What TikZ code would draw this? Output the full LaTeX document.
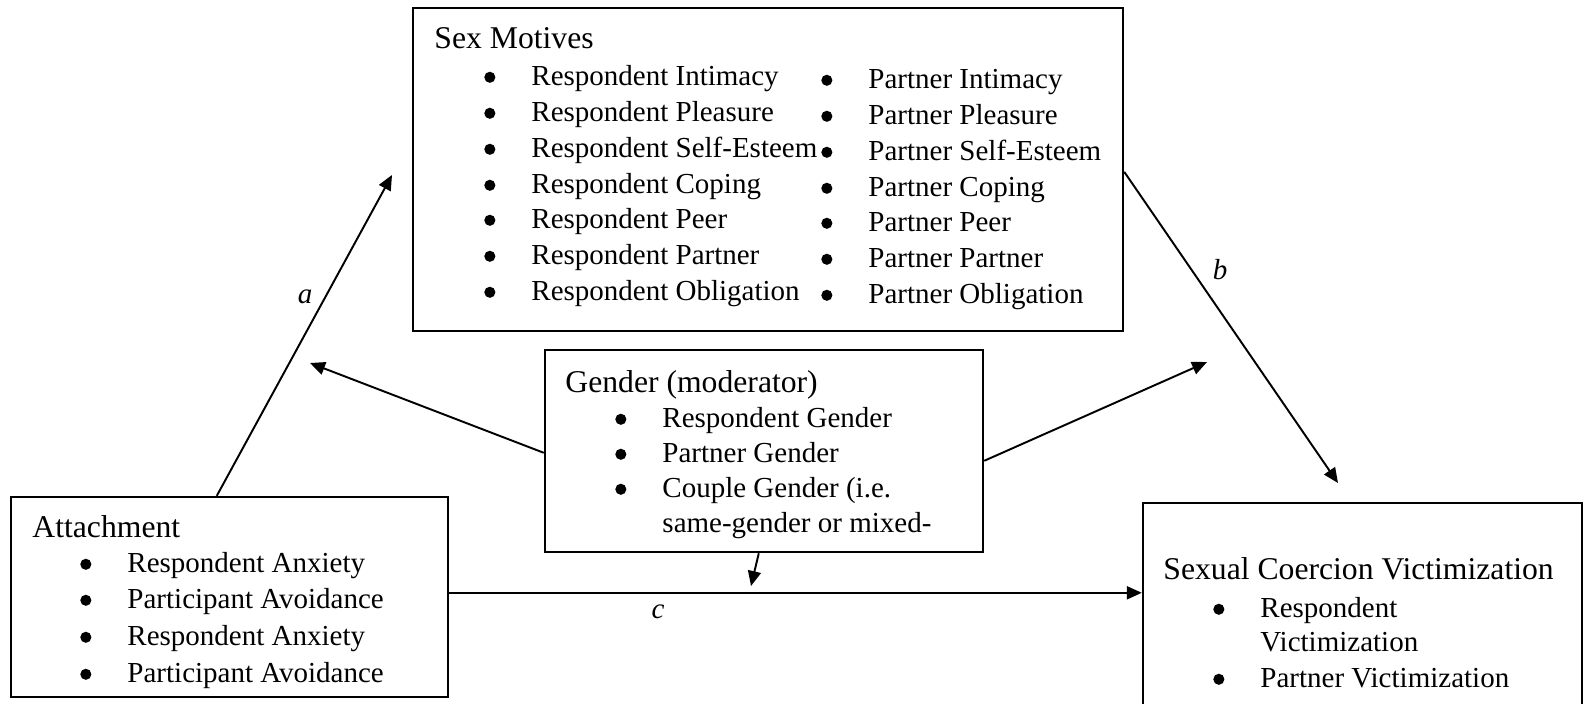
\documentclass[tikz,border=0pt]{standalone}
\usepackage{fontspec}
\setmainfont{Liberation Serif}
\usetikzlibrary{arrows.meta,fit,calc}
\newcommand\itemfont{\fontsize{12}{14}\selectfont}
\newcommand\titlefont{\fontsize{13.1}{15}\selectfont}
\newcommand\bul{\makebox[19.03pt][l]{\hspace{-0.5pt}\tikz[baseline=0pt]\fill (2.3pt,3.2pt) circle[radius=2.3pt];}}
\begin{document}
\begin{tikzpicture}[x=0.41379pt,y=-0.41379pt,
  box/.style={draw,line width=1pt,inner sep=0pt},
  itm/.style={anchor=base west,inner sep=0pt,font=\itemfont},
  ttl/.style={anchor=base west,inner sep=0pt,font=\titlefont},
  lbl/.style={inner sep=0pt,font=\itemfont\itshape},
  arr/.style={line width=0.8pt,-{Triangle[length=6.2pt,width=5.4pt]}},
  ln/.style={line width=0.8pt}]
\useasboundingbox (0,0) rectangle (1583,703);
\clip (0,0) rectangle (1583,703);
% boxes
\node[box,fit={(413,8) (1123,331)}] (sm) {};
\node[box,fit={(545,350) (983,552)}] (gen) {};
\node[box,fit={(11,497) (448,697)}] (att) {};
\node[box,fit={(1143,503) (1582,730)}] (vic) {};
% Sex motives text
\node[ttl] (smt) at (434,48) {Sex Motives};
\node[itm] (r1) at (485,85) {\bul Respondent Intimacy};
\node[itm] (r2) at (485,121) {\bul Respondent Pleasure};
\node[itm] (r3) at (485,157) {\bul Respondent Self-Esteem};
\node[itm] (r4) at (485,193) {\bul Respondent Coping};
\node[itm] (r5) at (485,228) {\bul Respondent Peer};
\node[itm] (r6) at (485,264) {\bul Respondent Partner};
\node[itm] (r7) at (485,300) {\bul Respondent Obligation};
\node[itm] (p1) at (822,88) {\bul Partner Intimacy};
\node[itm] (p2) at (822,124) {\bul Partner Pleasure};
\node[itm] (p3) at (822,160) {\bul Partner Self-Esteem};
\node[itm] (p4) at (822,196) {\bul Partner Coping};
\node[itm] (p5) at (822,231) {\bul Partner Peer};
\node[itm] (p6) at (822,267) {\bul Partner Partner};
\node[itm] (p7) at (822,303) {\bul Partner Obligation};
% Gender text
\node[ttl] (gt) at (565,392) {Gender (moderator)};
\node[itm] (g1) at (616,427) {\bul Respondent Gender};
\node[itm] (g2) at (616,462) {\bul Partner Gender};
\node[itm] (g3) at (616,497) {\bul Couple Gender (i.e.};
\node[itm] (g4) at (662,532) {same-gender or mixed-};
% Attachment text
\node[ttl] (at) at (32,537) {Attachment};
\node[itm] (a1) at (81,572) {\bul Respondent Anxiety};
\node[itm] (a2) at (81,608) {\bul Participant Avoidance};
\node[itm] (a3) at (81,645) {\bul Respondent Anxiety};
\node[itm] (a4) at (81,682) {\bul Participant Avoidance};
% Victimization text
\node[ttl] (vt) at (1163,579) {Sexual Coercion Victimization};
\node[itm] (v1) at (1214,617) {\bul Respondent};
\node[itm] (v2) at (1260,651) {Victimization};
\node[itm] (v3) at (1214,687) {\bul Partner Victimization};
% free ends
\coordinate (atip) at (392,175);
\coordinate (btip) at (1338,483);
\coordinate (mtip) at (751,586);
\coordinate (ltip) at (310,363);
\coordinate (rtip) at (1207,362);
% connectors
\draw[arr] ($(att.north west)+(207,0)$) -- (atip);
\draw[arr] ($(sm.north east)+(0,165)$) -- (btip);
\draw[arr] ($(att.north east)+(0,97)$) -- ($(vic.north west)+(0,91)$);
\draw[arr] ($(gen.south west)+(215,0)$) -- (mtip);
\draw[arr] ($(gen.north west)+(0,104)$) -- (ltip);
\draw[arr] ($(gen.north east)+(0,112)$) -- (rtip);
% labels
\node[lbl] (la) at (305,297) {a};
\node[lbl] (lb) at (1220,270) {b};
\node[lbl] (lc) at (658,612) {c};
\end{tikzpicture}
\end{document}
